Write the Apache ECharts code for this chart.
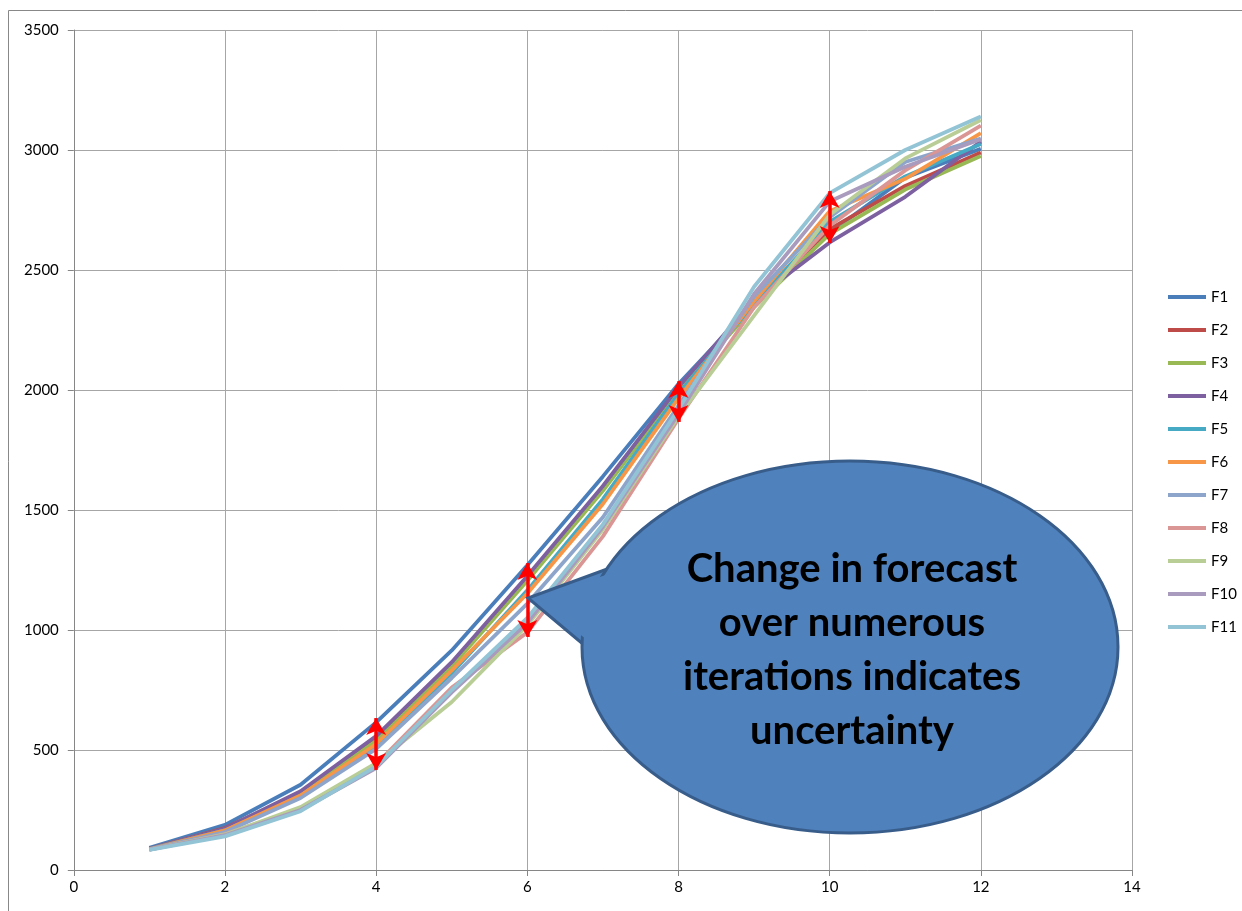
<!DOCTYPE html>
<html>
<head>
<meta charset="utf-8">
<script src="https://cdn.jsdelivr.net/npm/echarts@6/dist/echarts.min.js"></script>
<style>html,body{margin:0;padding:0;background:#fff;}#c{width:1242px;height:911px;}</style>
</head>
<body>
<div id="c"></div>
<script>
const xs = [1,2,3,4,5,6,7,8,9,10,11,12];
const seriesNames = ['F1','F2','F3','F4','F5','F6','F7','F8','F9','F10','F11'];
const F1  = [92, 188, 355, 615, 915, 1270, 1640, 2025, 2360, 2655, 2885, 3005];
const F2  = [88, 175, 320, 548, 858, 1218, 1592, 2005, 2355, 2670, 2850, 2990];
const F3  = [87, 170, 315, 538, 848, 1205, 1580, 1995, 2345, 2650, 2835, 2975];
const F4  = [88, 173, 328, 558, 866, 1225, 1600, 2012, 2375, 2615, 2805, 3035];
const F5  = [87, 165, 305, 518, 820, 1165, 1545, 1985, 2360, 2700, 2890, 3025];
const F6  = [86, 165, 310, 525, 832, 1152, 1525, 1965, 2370, 2745, 2880, 3070];
const F7  = [86, 158, 300, 505, 800, 1110, 1470, 1935, 2390, 2720, 2950, 3048];
const F8  = [85, 150, 255, 440, 760, 990, 1390, 1880, 2345, 2685, 2915, 3102];
const F9  = [85, 148, 262, 445, 700, 1020, 1420, 1890, 2310, 2730, 2965, 3125];
const F10 = [85, 145, 250, 425, 740, 1030, 1430, 1900, 2400, 2785, 2930, 3045];
const F11 = [84, 140, 245, 432, 750, 1050, 1440, 1920, 2430, 2820, 3000, 3140];
const allValues = [F1,F2,F3,F4,F5,F6,F7,F8,F9,F10,F11];
const colors = ['#4A7EBB','#BE4B48','#98B954','#7D60A0','#46AAC5','#F79646','#8EA5CB','#D99694','#B9CD96','#A99BBD','#92C4D6'];
// uncertainty arrows: [x, yTop, yBottom]
const arrowSpans = [[4, 633, 417],[6, 1279, 971],[8, 2037, 1867],[10, 2829, 2612]];
const calloutLines = ['Change in forecast','over numerous','iterations indicates','uncertainty'];

const chart = echarts.init(document.getElementById('c'));
const font = 'Lato, "Liberation Sans", sans-serif';
const series = seriesNames.map((n,i)=>({
  name:n, type:'line', symbol:'none', smooth:false,
  data: xs.map((x,j)=>[x, allValues[i][j]]),
  lineStyle:{width:3.8, color:colors[i]}, itemStyle:{color:colors[i]},
  emphasis:{disabled:true}, z:2
}));
series[series.length-1].markLine = {
  silent:true, symbol:['arrow','arrow'], symbolSize:[15,17],
  label:{show:false}, emphasis:{disabled:true},
  lineStyle:{color:'#FF0000', width:3.5, type:'solid'},
  data: arrowSpans.map(a=>[{coord:[a[0],a[1]]},{coord:[a[0],a[2]]}])
};
const fill = '#4F81BD', stroke = '#385D8A';
chart.setOption({
  animation:false,
  backgroundColor:'#fff',
  grid:{left:73.8, right:110, top:30, bottom:41},
  xAxis:{type:'value', min:0, max:14, interval:2,
    axisLine:{show:true, lineStyle:{color:'#868686', width:1}},
    axisTick:{show:true, length:6, lineStyle:{color:'#868686'}},
    axisLabel:{color:'#000', fontSize:15, fontFamily:font, margin:10, formatter:v=>String(v)},
    splitLine:{show:true, lineStyle:{color:'#A6A6A6', width:1}}},
  yAxis:{type:'value', min:0, max:3500, interval:500,
    axisLine:{show:true, lineStyle:{color:'#868686', width:1}},
    axisTick:{show:true, length:6, lineStyle:{color:'#868686'}},
    axisLabel:{color:'#000', fontSize:15, fontFamily:font, margin:15, formatter:v=>String(v)},
    splitLine:{show:true, lineStyle:{color:'#A6A6A6', width:1}}},
  legend:{orient:'vertical', left:1163, top:283, icon:'rect', itemWidth:38, itemHeight:4,
    itemGap:15, data:seriesNames,
    textStyle:{fontSize:15, fontFamily:font, color:'#000', lineHeight:18}},
  series: series,
  graphic:[
    {type:'rect', shape:{x:8.5, y:10.5, width:1300, height:1000}, style:{fill:'none', stroke:'#888', lineWidth:1}, silent:true, z:-1},
    {type:'polygon', shape:{points:[[610,568],[528,598],[590,650]]}, style:{fill:fill, stroke:stroke, lineWidth:3, lineJoin:'miter'}, z:10},
    {type:'ellipse', shape:{cx:850, cy:647, rx:268, ry:186}, style:{fill:fill, stroke:stroke, lineWidth:3}, z:11},
    {type:'polygon', shape:{points:[[612,573],[535,598],[592,644],[640,620]]}, style:{fill:fill}, z:12},
    {type:'text', x:852, y:650, z:13,
      style:{text:calloutLines.join('\n'), fill:'#000', font:'bold 40px ' + font,
        align:'center', verticalAlign:'middle', lineHeight:54}}
  ]
});
</script>
</body>
</html>
